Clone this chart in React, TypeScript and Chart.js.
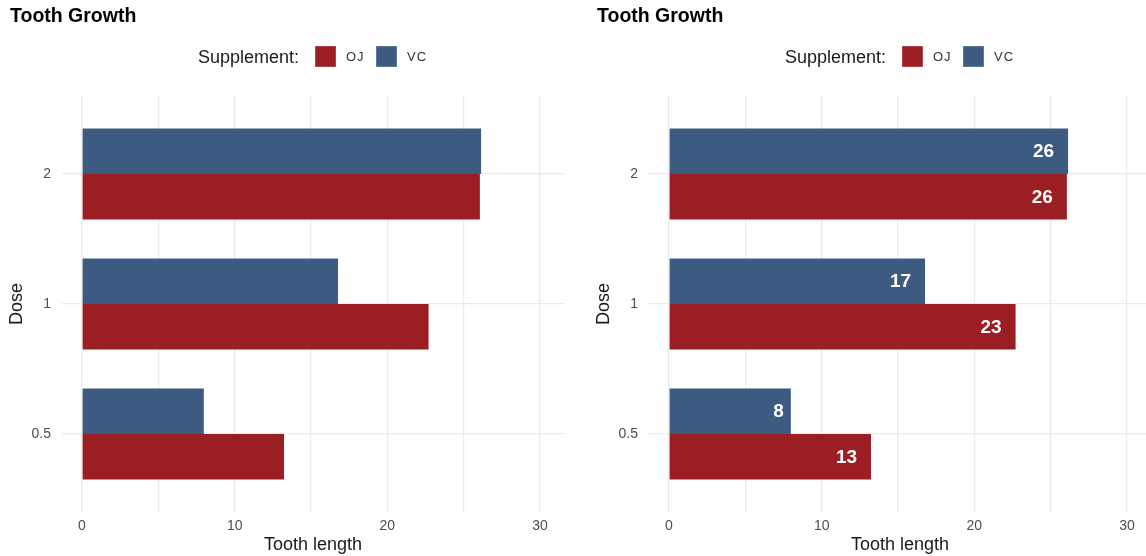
import React, { useEffect, useRef } from "react";
import { Chart, registerables } from "chart.js";

Chart.register(...registerables);

// ---- data ----
const doses = ["0.5", "1", "2"];
const ojLength = [13.23, 22.7, 26.06];
const vcLength = [7.98, 16.77, 26.14];
const xTicks = [0, 5, 10, 15, 20, 25, 30];
const chartTitle = "Tooth Growth";
const legendTitle = "Supplement:";
const legendLabels = ["OJ", "VC"];
const xTitle = "Tooth length";
const yTitle = "Dose";

const OJ_COLOR = "#9A1E22";
const VC_COLOR = "#3D5A80";
const FONT = "'Liberation Sans', Arial, Helvetica, sans-serif";
const X_MIN = -1.31;
const X_MAX = 31.57;
const PANEL_W = 573;
const PANEL_H = 556;

const labelPlugin = {
  id: "barLabels",
  afterDatasetsDraw(chart: any) {
    const { ctx } = chart;
    ctx.save();
    ctx.font = `bold 19px ${FONT}`;
    ctx.fillStyle = "#FFFFFF";
    ctx.textAlign = "right";
    ctx.textBaseline = "middle";
    chart.data.datasets.forEach((ds: any, di: number) => {
      const meta = chart.getDatasetMeta(di);
      meta.data.forEach((bar: any, i: number) => {
        const txt = String(Math.round(ds.data[i].x));
        const w = ctx.measureText(txt).width;
        ctx.fillText(txt, bar.x - 0.66 * w, bar.y + 1);
      });
    });
    ctx.restore();
  },
};

function Panel({ left, showLabels }: { left: number; showLabels: boolean }) {
  const ref = useRef<HTMLCanvasElement>(null);
  useEffect(() => {
    if (!ref.current) return;
    const grid = { color: "#EBEBEB", lineWidth: 1.2, drawTicks: false, offset: false };
    const chart = new Chart(ref.current, {
      type: "bar",
      data: {
        datasets: [
          {
            label: "VC",
            data: doses.map((_, i) => ({ y: i + 1, x: vcLength[i] })),
            backgroundColor: VC_COLOR,
            borderWidth: 0,
          },
          {
            label: "OJ",
            data: doses.map((_, i) => ({ y: i + 1, x: ojLength[i] })),
            backgroundColor: OJ_COLOR,
            borderWidth: 0,
          },
        ],
      } as any,
      options: {
        indexAxis: "y",
        animation: false,
        responsive: false,
        maintainAspectRatio: false,
        layout: { padding: { top: 96, right: 9, bottom: 0, left: 0 } },
        plugins: {
          legend: { display: false },
          title: { display: false },
          tooltip: { enabled: false },
        },
        datasets: { bar: { categoryPercentage: 0.7, barPercentage: 1 } },
        scales: {
          x: {
            type: "linear",
            min: X_MIN,
            max: X_MAX,
            offset: false,
            afterBuildTicks: (s: any) => {
              s.ticks = xTicks.map((v) => ({ value: v }));
            },
            ticks: {
              callback: (v: any) => (Number(v) % 10 === 0 ? String(v) : ""),
              color: "#4D4D4D",
              font: { family: FONT, size: 14 },
              padding: 6,
              maxRotation: 0,
              autoSkip: false,
            },
            grid,
            border: { display: false },
            title: {
              display: true,
              text: xTitle,
              color: "#1A1A1A",
              font: { family: FONT, size: 18 },
              padding: { top: 0, bottom: 0 },
            },
            afterFit: (s: any) => {
              s.height = 44;
            },
          },
          y: {
            type: "linear",
            min: 0.4,
            max: 3.6,
            offset: false,
            afterBuildTicks: (s: any) => {
              s.ticks = doses.map((_, i) => ({ value: i + 1 }));
            },
            ticks: {
              callback: (v: any) => doses[Number(v) - 1] ?? "",
              color: "#4D4D4D",
              font: { family: FONT, size: 14 },
              padding: 11,
              autoSkip: false,
            },
            grid,
            border: { display: false },
            title: {
              display: true,
              text: yTitle,
              color: "#1A1A1A",
              font: { family: FONT, size: 18 },
              padding: { top: 6, bottom: 0 },
            },
            afterFit: (s: any) => {
              s.width = 62;
            },
          },
        },
      } as any,
      plugins: showLabels ? [labelPlugin] : [],
    });
    return () => chart.destroy();
  }, [showLabels]);

  const keyStyle = (color: string, x: number): React.CSSProperties => ({
    position: "absolute",
    left: x,
    top: 46,
    width: 21,
    height: 21,
    background: color,
    boxShadow: "inset 0 0 0 0.5px rgba(255,255,255,0.35)",
  });
  const labStyle = (x: number): React.CSSProperties => ({
    position: "absolute",
    left: x,
    top: 48,
    fontSize: 13,
    lineHeight: "18px",
    letterSpacing: 1,
    color: "#333333",
    whiteSpace: "nowrap",
  });

  return (
    <div
      style={{
        position: "absolute",
        left,
        top: 0,
        width: PANEL_W,
        height: PANEL_H,
        fontFamily: FONT,
      }}
    >
      <canvas
        ref={ref}
        width={PANEL_W}
        height={PANEL_H}
        style={{ position: "absolute", left: 0, top: 0, width: PANEL_W, height: PANEL_H }}
      />
      <div
        style={{
          position: "absolute",
          left: 10,
          top: 5,
          fontSize: 19.5,
          lineHeight: "20px",
          fontWeight: "bold",
          color: "#000",
          whiteSpace: "nowrap",
        }}
      >
        {chartTitle}
      </div>
      <div
        style={{
          position: "absolute",
          left: 198,
          top: 46,
          fontSize: 18,
          lineHeight: "22px",
          color: "#1A1A1A",
          whiteSpace: "nowrap",
        }}
      >
        {legendTitle}
      </div>
      <span style={keyStyle(OJ_COLOR, 315)} />
      <span style={labStyle(346)}>{legendLabels[0]}</span>
      <span style={keyStyle(VC_COLOR, 376)} />
      <span style={labStyle(407)}>{legendLabels[1]}</span>
    </div>
  );
}

export default function App() {
  return (
    <div
      style={{
        position: "fixed",
        left: 0,
        top: 0,
        width: 1146,
        height: 556,
        overflow: "hidden",
        background: "#FFFFFF",
      }}
    >
      <Panel left={0} showLabels={false} />
      <Panel left={587} showLabels={true} />
    </div>
  );
}
